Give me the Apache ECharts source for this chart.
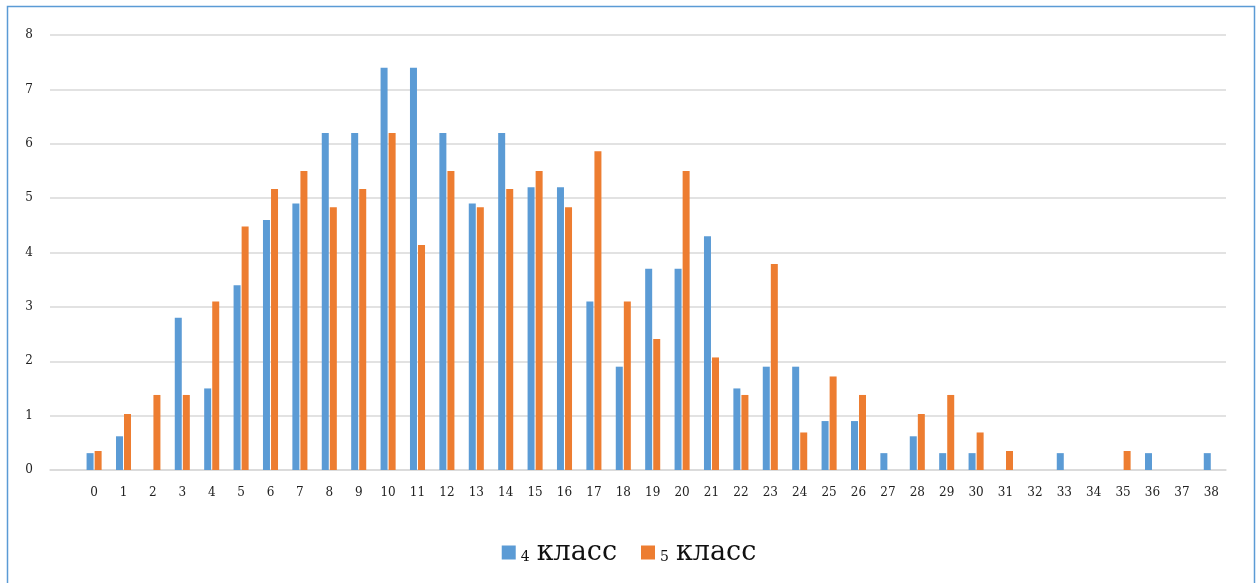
<!DOCTYPE html>
<html><head><meta charset="utf-8">
<script src="https://cdn.jsdelivr.net/npm/echarts@6/dist/echarts.min.js"></script>
<style>html,body{margin:0;padding:0;background:#fff}#c{width:1258px;height:583px}</style>
</head><body><div id="c"></div>
<script>
const categories = ['', '0','1','2','3','4','5','6','7','8','9','10','11','12','13','14','15','16','17','18','19','20','21','22','23','24','25','26','27','28','29','30','31','32','33','34','35','36','37','38'];
const seriesNames = ['4 класс', '5 класс'];
const grade4 = [null, 0.31,0.62,0,2.8,1.5,3.4,4.6,4.9,6.2,6.2,7.4,7.4,6.2,4.9,6.2,5.2,5.2,3.1,1.9,3.7,3.7,4.3,1.5,1.9,1.9,0.9,0.9,0.31,0.62,0.31,0.31,0,0,0.31,0,0,0.31,0,0.31];
const grade5 = [null, 0.35,1.03,1.38,1.38,3.1,4.48,5.17,5.5,4.83,5.17,6.2,4.14,5.5,4.83,5.17,5.5,4.83,5.86,3.1,2.41,5.5,2.07,1.38,3.79,0.69,1.72,1.38,0,1.03,1.38,0.69,0.35,0,0,0,0.35,0,0,0];
const yTicks = [0,1,2,3,4,5,6,7,8];

const chart = echarts.init(document.getElementById('c'));
const serif = '"DejaVu Serif", "Liberation Serif", serif';
chart.setOption({
  animation: false,
  graphic: [{
    type: 'rect', shape: {x: 7.5, y: 6.5, width: 1247, height: 600},
    style: {fill: 'none', stroke: '#5b9bd5', lineWidth: 1.5}
  }],
  grid: {left: 50, right: 32, top: 35, bottom: 113, containLabel: false},
  xAxis: {
    type: 'category', data: categories,
    axisLine: {show: true, lineStyle: {color: '#d9d9d9', width: 1.5}},
    axisTick: {show: false},
    axisLabel: {interval: 0, color: '#222', fontFamily: serif, fontSize: 12, margin: 17}
  },
  yAxis: {
    type: 'value', min: 0, max: 8, interval: 1,
    axisLabel: {color: '#222', fontFamily: serif, fontSize: 12, margin: 17,
      formatter: v => yTicks.includes(v) ? String(v) : ''},
    splitLine: {lineStyle: {color: '#d9d9d9', width: 1.5}},
    axisLine: {show: false}, axisTick: {show: false}
  },
  legend: {
    bottom: 12, left: 'center', itemWidth: 14, itemHeight: 14, itemGap: 24,
    icon: 'rect',
    data: seriesNames,
    formatter: name => { const p = name.split(' '); return '{n|' + p[0] + '}{t|' + p[1] + '}'; },
    textStyle: {
      fontFamily: serif, color: '#111',
      rich: {
        n: {fontSize: 14, fontFamily: serif, color: '#111', verticalAlign: 'bottom', padding: [0,7,2,0]},
        t: {fontSize: 27, fontFamily: serif, color: '#111'}
      }
    }
  },
  series: [
    {name: seriesNames[0], type: 'bar', data: grade4, barWidth: 7, barGap: '15%',
     itemStyle: {color: '#5b9bd5'}},
    {name: seriesNames[1], type: 'bar', data: grade5, barWidth: 7, barGap: '15%',
     itemStyle: {color: '#ed7d31'}}
  ]
});
</script></body></html>
